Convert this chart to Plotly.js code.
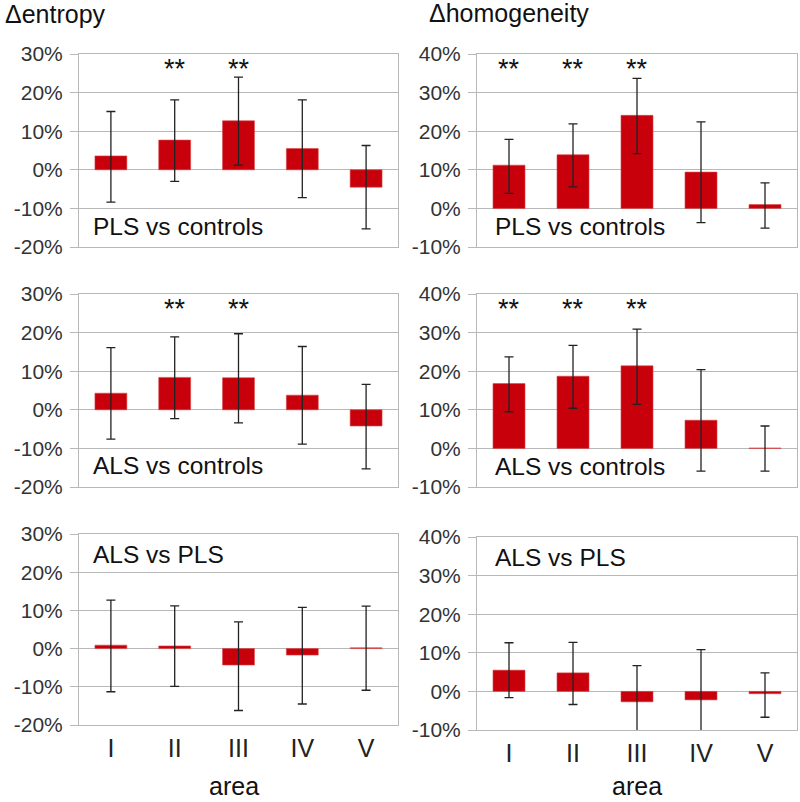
<!DOCTYPE html>
<html>
<head>
<meta charset="utf-8">
<script src="https://cdn.plot.ly/plotly-3.0.1.min.js"></script>
<style>
html,body{margin:0;padding:0;background:#fff;}
#chart{width:800px;height:802px;}
</style>
</head>
<body>
<div id="chart"></div>
<script>
// ---------- data (values in %) ----------
const areas = ["I", "II", "III", "IV", "V"];

// Δentropy
const entPLSvsCtrl      = [3.6, 7.7, 12.7, 5.5, -4.5];
const entPLSvsCtrlPlus  = [11.5, 10.4, 11.3, 12.6, 10.8];
const entPLSvsCtrlMinus = [12.0, 10.7, 11.5, 12.7, 10.8];

const entALSvsCtrl      = [4.3, 8.4, 8.3, 3.8, -4.2];
const entALSvsCtrlPlus  = [11.8, 10.5, 11.4, 12.6, 10.8];
const entALSvsCtrlMinus = [11.9, 10.7, 11.7, 12.7, 11.1];

const entALSvsPLS       = [0.9, 0.7, -4.3, -1.7, 0.2];
const entALSvsPLSPlus   = [11.8, 10.5, 11.3, 12.5, 10.9];
const entALSvsPLSMinus  = [12.2, 10.6, 11.9, 12.8, 11.1];

// Δhomogeneity
const homPLSvsCtrl      = [11.2, 13.9, 24.1, 9.4, 1.0];
const homPLSvsCtrlPlus  = [6.7, 8.0, 9.6, 13.0, 5.6];
const homPLSvsCtrlMinus = [7.3, 8.3, 9.9, 13.1, 6.1];

const homALSvsCtrl      = [16.8, 18.7, 21.4, 7.3, 0.1];
const homALSvsCtrlPlus  = [6.9, 8.0, 9.5, 13.1, 5.7];
const homALSvsCtrlMinus = [7.3, 8.3, 10.0, 13.2, 6.0];

const homALSvsPLS       = [5.5, 4.8, -2.7, -2.2, -0.6];
const homALSvsPLSPlus   = [7.1, 7.9, 9.4, 13.0, 5.4];
const homALSvsPLSMinus  = [7.1, 8.2, 9.4, 13.0, 6.1];

// significance markers ("**") per panel
const sigEntPLSvsCtrl = ["II", "III"];
const sigHomPLSvsCtrl = ["I", "II", "III"];
const sigEntALSvsCtrl = ["II", "III"];
const sigHomALSvsCtrl = ["I", "II", "III"];

// tick labels
const entTickVals = [-20, -10, 0, 10, 20, 30];
const entTickText = ["-20%", "-10%", "0%", "10%", "20%", "30%"];
const homTickVals = [-10, 0, 10, 20, 30, 40];
const homTickText = ["-10%", "0%", "10%", "20%", "30%", "40%"];

const panelLabels = ["PLS vs controls", "PLS vs controls", "ALS vs controls", "ALS vs controls", "ALS vs PLS", "ALS vs PLS"];

// ---------- styling ----------
const W = 800, H = 802;
const FONT = "Liberation Sans, Arial, Helvetica, sans-serif";
const BAR = "rgb(200,0,11)";
const GRID = "#b8b8b8";

function xdom(l, r) { return [l / W, r / W]; }
function ydom(t, b) { return [1 - b / H, 1 - t / H]; }

const cols = [xdom(79, 398), xdom(477, 797)];
const rows = [
  [ydom(54, 247), ydom(54, 247)],
  [ydom(294, 487), ydom(294, 487)],
  [ydom(534, 725), ydom(537, 730)]
];

const panels = [
  {v: entPLSvsCtrl, p: entPLSvsCtrlPlus, m: entPLSvsCtrlMinus, kind: "ent", r: 0, c: 0, sig: sigEntPLSvsCtrl},
  {v: homPLSvsCtrl, p: homPLSvsCtrlPlus, m: homPLSvsCtrlMinus, kind: "hom", r: 0, c: 1, sig: sigHomPLSvsCtrl},
  {v: entALSvsCtrl, p: entALSvsCtrlPlus, m: entALSvsCtrlMinus, kind: "ent", r: 1, c: 0, sig: sigEntALSvsCtrl},
  {v: homALSvsCtrl, p: homALSvsCtrlPlus, m: homALSvsCtrlMinus, kind: "hom", r: 1, c: 1, sig: sigHomALSvsCtrl},
  {v: entALSvsPLS, p: entALSvsPLSPlus, m: entALSvsPLSMinus, kind: "ent", r: 2, c: 0, sig: []},
  {v: homALSvsPLS, p: homALSvsPLSPlus, m: homALSvsPLSMinus, kind: "hom", r: 2, c: 1, sig: []}
];

const traces = [];
const layout = {
  width: W, height: H,
  margin: {l: 0, r: 0, t: 0, b: 0},
  paper_bgcolor: "#fff", plot_bgcolor: "#fff",
  showlegend: false,
  bargap: 0.5,
  font: {family: FONT, color: "#333"},
  annotations: []
};

panels.forEach((pn, i) => {
  const n = i + 1;
  const xa = n === 1 ? "x" : "x" + n;
  const ya = n === 1 ? "y" : "y" + n;
  traces.push({
    type: "bar",
    x: areas, y: pn.v,
    xaxis: xa, yaxis: ya,
    marker: {color: BAR, line: {color: "rgb(215,70,70)", width: 0.6}},
    error_y: {type: "data", symmetric: false, array: pn.p, arrayminus: pn.m,
              color: "#222", thickness: 1.3, width: 4.5},
    hoverinfo: "skip"
  });
  const bottom = pn.r === 2;
  layout["xaxis" + (n === 1 ? "" : n)] = {
    domain: cols[pn.c], anchor: ya,
    type: "category", categoryorder: "array", categoryarray: areas,
    range: [-0.5, 4.5],
    showgrid: false, zeroline: false,
    showline: true, mirror: true, linecolor: GRID, linewidth: 1,
    ticks: "", showticklabels: bottom,
    ticklabelstandoff: 1,
    tickfont: {size: 25, color: "#222", family: FONT},
    fixedrange: true
  };
  const isEnt = pn.kind === "ent";
  layout["yaxis" + (n === 1 ? "" : n)] = {
    domain: rows[pn.r][pn.c], anchor: xa,
    range: isEnt ? [-20, 30] : [-10, 40],
    tickmode: "array",
    tickvals: isEnt ? entTickVals : homTickVals,
    ticktext: isEnt ? entTickText : homTickText,
    showgrid: true, gridcolor: GRID, gridwidth: 1,
    zeroline: false,
    showline: true, mirror: true, linecolor: GRID, linewidth: 1,
    ticks: "outside", ticklen: 8, tickcolor: GRID, tickwidth: 1,
    ticklabelstandoff: 3,
    tickfont: {size: 21, color: "#333", family: FONT},
    fixedrange: true
  };
  // panel label
  const labelYFrac = [0.104, 0.104, 0.109, 0.104, 0.895, 0.896][i];
  const labelX = pn.c === 0 ? 12 / 319 : 16 / 320;
  layout.annotations.push({
    text: panelLabels[i], xref: xa + " domain", yref: ya + " domain",
    x: labelX, y: labelYFrac, xanchor: "left", yanchor: "middle",
    showarrow: false, font: {size: 24.5, color: "#111", family: FONT}
  });
  // significance stars
  pn.sig.forEach(cat => {
    layout.annotations.push({
      text: "**", xref: xa, yref: ya, x: cat,
      y: isEnt ? 26.0 : 36.0,
      xanchor: "center", yanchor: "middle",
      showarrow: false, font: {size: 27, color: "#111", family: FONT}
    });
  });
});

// column titles and x-axis titles
layout.annotations.push(
  {text: "\u0394entropy", xref: "paper", yref: "paper", x: 3 / W, y: 1 - 14 / H,
   xanchor: "left", yanchor: "middle", showarrow: false,
   font: {size: 25, color: "#111", family: FONT}},
  {text: "\u0394homogeneity", xref: "paper", yref: "paper", x: 427 / W, y: 1 - 13 / H,
   xanchor: "left", yanchor: "middle", showarrow: false,
   font: {size: 25, color: "#111", family: FONT}},
  {text: "area", xref: "paper", yref: "paper", x: 234 / W, y: 0,
   xanchor: "center", yanchor: "bottom", showarrow: false,
   font: {size: 25, color: "#111", family: FONT}},
  {text: "area", xref: "paper", yref: "paper", x: 637 / W, y: 0,
   xanchor: "center", yanchor: "bottom", showarrow: false,
   font: {size: 25, color: "#111", family: FONT}}
);

Plotly.newPlot("chart", traces, layout, {staticPlot: true, displayModeBar: false});
</script>
</body>
</html>
